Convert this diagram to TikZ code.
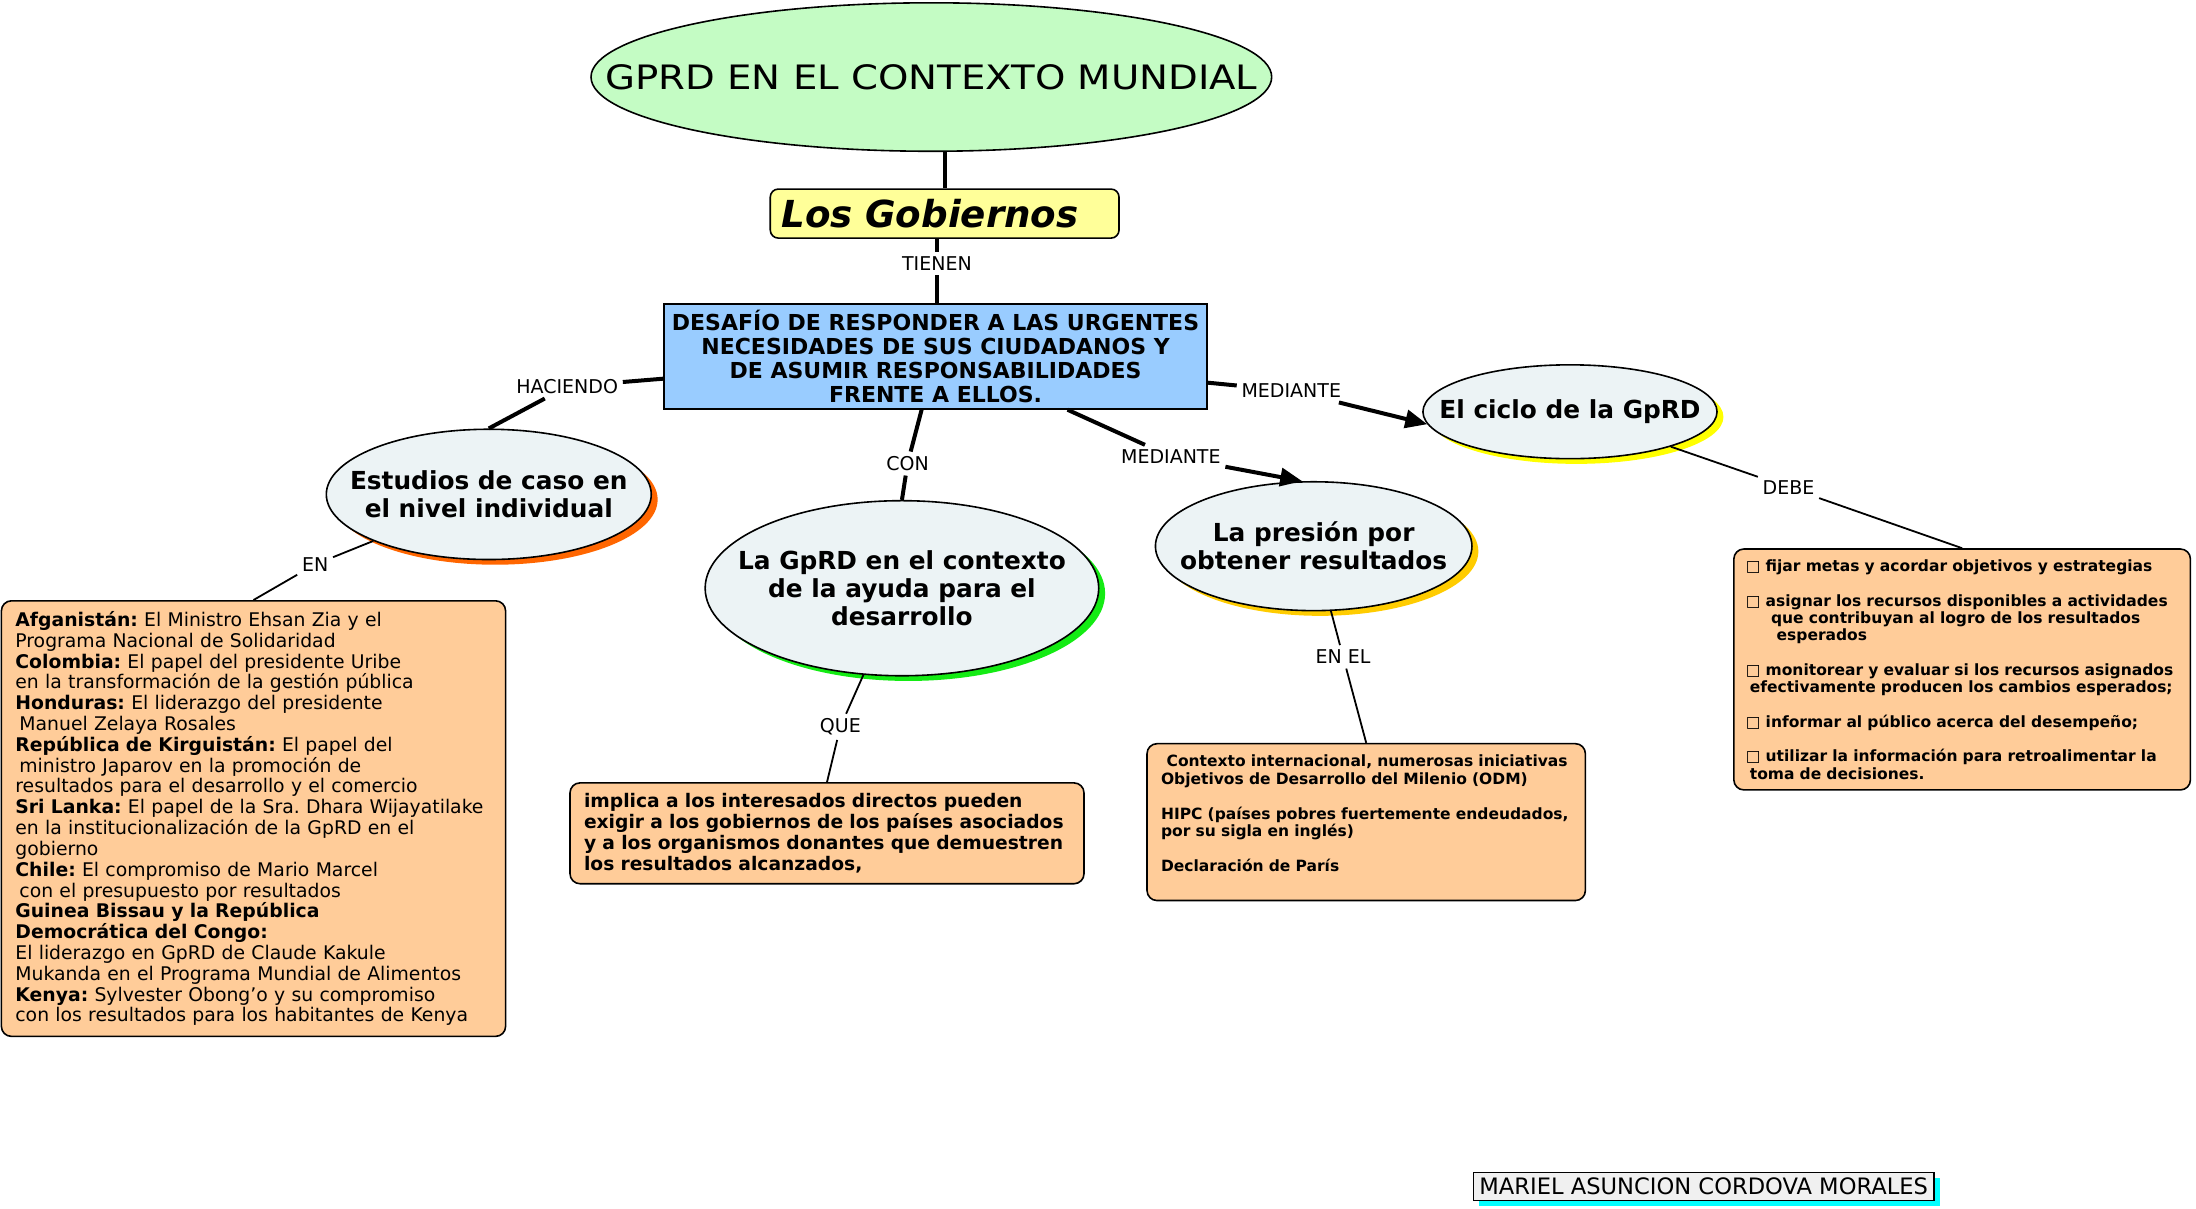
\documentclass[tikz,border=0pt]{standalone}
\usepackage{fontspec}
\setmainfont{DejaVu Sans}
\newfontfamily\titlefont[FakeStretch=1.15]{DejaVu Sans}
\usetikzlibrary{shapes.geometric,arrows.meta,shadows}
\definecolor{titlegreen}{RGB}{196,252,196}
\definecolor{gobyellow}{RGB}{255,255,153}
\definecolor{desblue}{RGB}{153,204,255}
\definecolor{ellfill}{RGB}{236,243,245}
\definecolor{peach}{RGB}{255,204,153}
\definecolor{shorange}{RGB}{255,102,0}
\definecolor{shgreen}{RGB}{20,235,20}
\definecolor{shgold}{RGB}{255,204,0}
\definecolor{shyellow}{RGB}{255,255,0}
\definecolor{shcyan}{RGB}{0,255,255}
\definecolor{marielgrey}{RGB}{240,240,240}
\newcommand{\sqb}{\textmd{□}}
\frenchspacing
\begin{document}
\begin{tikzpicture}[x=0.7pt,y=-0.7pt,
  ell/.style={ellipse, draw=black, line width=0.8pt, fill=ellfill, inner sep=0pt},
  ellshadow/.style={drop shadow={fill=#1, opacity=1, shadow xshift=3.2pt, shadow yshift=-2.6pt}},
  elltext/.style={font=\bfseries\fontsize{12.4}{14}\selectfont, align=center, inner sep=0pt},
  peachbox/.style={rectangle, rounded corners=5pt, draw=black, line width=0.8pt, fill=peach, inner ysep=0pt, align=left},
  lbl/.style={font=\fontsize{9.5}{11}\selectfont, inner sep=2.2pt},
  thk/.style={line width=2pt},
  thn/.style={line width=0.9pt},
  arr/.style={line width=2pt, -{Triangle[length=11pt,width=9pt]}}]
\fill[white] (0,0) rectangle (1568,863);
\useasboundingbox (0,0) rectangle (1568,863);

% title
\node[ell, fill=titlegreen, minimum width=340.2pt, minimum height=74.2pt] (title) at (665,55) {};
\node[font=\titlefont\fontsize{16.8}{20}\selectfont, inner sep=0pt] (titletext) at (title) {GPRD EN EL CONTEXTO MUNDIAL};

% Los Gobiernos
\node[rectangle, rounded corners=4pt, draw=black, line width=0.8pt, fill=gobyellow,
  minimum width=174.3pt, minimum height=24.5pt, text width=163.1pt, inner xsep=5.6pt, inner ysep=0pt,
  align=left, font=\bfseries\itshape\fontsize{18.6}{20}\selectfont] (gob) at (674.5,152.5) {Los Gobiernos};

% central box
\node[rectangle, draw=black, line width=0.8pt, fill=desblue, minimum width=271.6pt, minimum height=52.5pt,
  inner sep=0pt, align=center, font=\bfseries\fontsize{11}{12.1}\selectfont] (desafio) at (668,254.5)
  {DESAFÍO DE RESPONDER A LAS URGENTES\\NECESIDADES DE SUS CIUDADANOS Y\\DE ASUMIR RESPONSABILIDADES\\FRENTE A ELLOS.};

% ellipses
\node[ell, ellshadow=shorange, minimum width=162.4pt, minimum height=65.1pt] (est) at (349,353) {};
\node[elltext] (esttext) at (est) {Estudios de caso en\\el nivel individual};

\node[ell, ellshadow=shgreen, minimum width=196.7pt, minimum height=87.5pt] (aid) at (644,420) {};
\node[elltext] (aidtext) at (aid) {La GpRD en el contexto\\de la ayuda para el\\desarrollo};

\node[ell, ellshadow=shgold, minimum width=158.2pt, minimum height=64.4pt] (pres) at (938,390) {};
\node[elltext] (prestext) at (pres) {La presión por\\obtener resultados};

\node[ell, ellshadow=shyellow, minimum width=147pt, minimum height=46.9pt] (ciclo) at (1121,294) {};
\node[elltext] (ciclotext) at (ciclo) {El ciclo de la GpRD};

% boxes
\node[peachbox, minimum width=252pt, minimum height=217.7pt, text width=238pt, inner xsep=7pt,
  font=\fontsize{9.4}{10.4}\selectfont] (cases) at (181,584.5)
  {\textbf{Afganistán:} El Ministro Ehsan Zia y el\\
   Programa Nacional de Solidaridad\\
   \textbf{Colombia:} El papel del presidente Uribe\\
   en la transformación de la gestión pública\\
   \textbf{Honduras:} El liderazgo del presidente\\
   \hspace*{2pt}Manuel Zelaya Rosales\\
   \textbf{República de Kirguistán:} El papel del\\
   \hspace*{2pt}ministro Japarov en la promoción de\\
   resultados para el desarrollo y el comercio\\
   \textbf{Sri Lanka:} El papel de la Sra. Dhara Wijayatilake\\
   en la institucionalización de la GpRD en el\\
   gobierno\\
   \textbf{Chile:} El compromiso de Mario Marcel\\
   \hspace*{2pt}con el presupuesto por resultados\\
   \textbf{Guinea Bissau y la República}\\
   \textbf{Democrática del Congo:}\\
   El liderazgo en GpRD de Claude Kakule\\
   Mukanda en el Programa Mundial de Alimentos\\
   \textbf{Kenya:} Sylvester Obong’o y su compromiso\\
   con los resultados para los habitantes de Kenya};

\node[peachbox, minimum width=256.9pt, minimum height=50.4pt, text width=242.9pt, inner xsep=7pt,
  font=\bfseries\fontsize{9.34}{10.5}\selectfont] (implica) at (590.5,595)
  {implica a los interesados directos pueden\\
   exigir a los gobiernos de los países asociados\\
   y a los organismos donantes que demuestren\\
   los resultados alcanzados,};

\node[peachbox, minimum width=219.1pt, minimum height=78.4pt, text width=205.1pt, inner xsep=7pt,
  font=\bfseries\fontsize{7.75}{8.75}\selectfont] (ctx) at (975.5,587)
  {\mbox{\hspace*{2.8pt}Contexto internacional, numerosas iniciativas}\\
   \mbox{Objetivos de Desarrollo del Milenio (ODM)}\\[8.75pt]
   \mbox{HIPC (países pobres fuertemente endeudados,}\\
   \mbox{por su sigla en inglés)}\\[8.75pt]
   Declaración de París\\
   \mbox{}};

\node[peachbox, minimum width=228.2pt, minimum height=120.4pt, text width=216.2pt, inner xsep=6pt,
  font=\bfseries\fontsize{7.75}{8.65}\selectfont] (ciclobox) at (1401,478)
  {\mbox{\sqb\ fijar metas y acordar objetivos y estrategias}\\[8.65pt]
   \mbox{\sqb\ asignar los recursos disponibles a actividades}\\
   \mbox{\hspace*{12.6pt}que contribuyan al logro de los resultados}\\
   \mbox{\hspace*{15.4pt}esperados}\\[8.65pt]
   \mbox{\sqb\ monitorear y evaluar si los recursos asignados}\\
   \mbox{\hspace*{2pt}efectivamente producen los cambios esperados;}\\[8.65pt]
   \mbox{\sqb\ informar al público acerca del desempeño;}\\[8.65pt]
   \mbox{\sqb\ utilizar la información para retroalimentar la}\\
   \mbox{\hspace*{2pt}toma de decisiones.}};

% author
\node[rectangle, draw=black, line width=0.7pt, fill=marielgrey, minimum width=230.3pt, minimum height=14pt,
  inner sep=0pt, drop shadow={fill=shcyan, opacity=1, shadow xshift=3pt, shadow yshift=-3pt},
  font=\fontsize{11.3}{12}\selectfont] (mariel) at (1216.5,847) {MARIEL ASUNCION CORDOVA MORALES};

% labels
\node[lbl] (tienen) at (669,188) {TIENEN};
\node[lbl] (haciendo) at (405,276) {HACIENDO};
\node[lbl] (con) at (648,331) {CON};
\node[lbl] (que) at (600,519) {QUE};
\node[lbl] (en1) at (225,403) {EN};
\node[lbl] (med2) at (836,326) {MEDIANTE};
\node[lbl] (med1) at (922,279) {MEDIANTE};
\node[lbl] (enel) at (959,469) {EN EL};
\node[lbl] (debe) at (1277,348) {DEBE};

% connectors
\draw[thk] (gob.north) -- (gob.north |- title.south);
\draw[thk] (gob.south -| tienen) -- (tienen);
\draw[thk] (tienen) -- (tienen |- desafio.north);
\draw[thk] (desafio) -- (haciendo);
\draw[thk] (haciendo) -- (est.north);
\draw[thn] (est) -- (en1);
\draw[thn] (en1) -- (cases.north);
\draw[thk] (desafio) -- (con);
\draw[thk] (con) -- (aid.north);
\draw[thn] (aid) -- (que);
\draw[thn] (que) -- (implica.north);
\draw[thk] (desafio.-22) -- (med2);
\draw[arr] (med2) -- (pres.100);
\draw[thn] (pres) -- (enel);
\draw[thn] (enel) -- (ctx.north);
\draw[thk] (desafio) -- (med1);
\draw[arr] (med1) -- (ciclo.185);
\draw[thn] (ciclo) -- (debe);
\draw[thn] (debe) -- (ciclobox.north);
\end{tikzpicture}
\end{document}
